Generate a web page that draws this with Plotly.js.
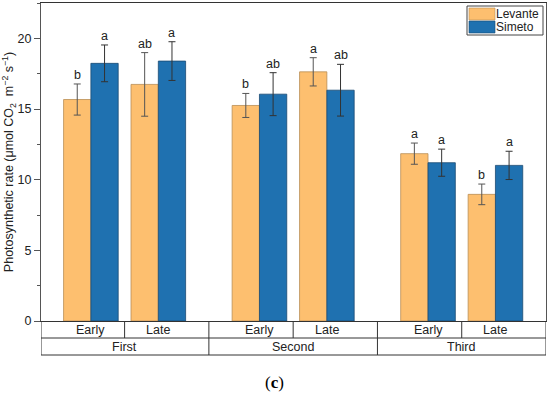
<!DOCTYPE html>
<html>
<head>
<meta charset="utf-8">
<script src="https://cdn.plot.ly/plotly-3.0.1.min.js"></script>
<style>html,body{margin:0;padding:0;background:#fff;}#chart{width:550px;height:393px;}</style>
</head>
<body>
<div id="chart"></div>
<script>
// ---- data ----
const sessions = ["First", "Second", "Third"];
const times = ["Early", "Late"];
const seriesNames = ["Levante", "Simeto"];
const levante = [15.67, 16.74, 15.25, 17.63, 11.84, 8.96];
const levanteErr = [1.1, 2.25, 0.85, 1.0, 0.75, 0.73];
const simeto = [18.23, 18.39, 16.05, 16.33, 11.2, 11.01];
const simetoErr = [1.3, 1.37, 1.52, 1.83, 0.96, 1.0];
const levanteLetters = ["b", "ab", "b", "a", "a", "b"];
const simetoLetters = ["a", "a", "ab", "ab", "a", "a"];
const yTicks = [0, 5, 10, 15, 20];

// ---- layout helpers ----
const colors = ['#FDBF6F', '#1F71B0'];
const lineColors = ['#b98e55', '#1a4a72'];
const groupGap = 2.5;
const barW = 0.405;
const xs = [];
const subLabels = [];
sessions.forEach((s, si) => times.forEach((t, ti) => { xs.push(si * groupGap + ti); subLabels.push(t); }));
const xMin = -0.74, xMax = 6.75;
const plotL = 41, plotR = 546, plotT = 3, plotB = 321;
const px = v => (v - plotL) / (plotR - plotL);
const py = v => (plotB - v) / (plotB - plotT);

const traces = [
  {
    type: 'bar', name: seriesNames[0], x: xs, y: levante, offset: -barW, width: barW,
    marker: {color: colors[0], line: {color: lineColors[0], width: 0.8}},
    error_y: {type: 'data', array: levanteErr, visible: true, color: '#555', thickness: 1, width: 3.5}
  },
  {
    type: 'bar', name: seriesNames[1], x: xs, y: simeto, offset: 0, width: barW,
    marker: {color: colors[1], line: {color: lineColors[1], width: 0.8}},
    error_y: {type: 'data', array: simetoErr, visible: true, color: '#333', thickness: 1, width: 3.5}
  }
];

const annotations = [];
const lblFont = {family: 'Liberation Sans, Arial, sans-serif', size: 12.5, color: '#222'};
xs.forEach((x, i) => {
  annotations.push({x: x - barW / 2, y: levante[i] + levanteErr[i], xref: 'x', yref: 'y', text: levanteLetters[i],
    showarrow: false, yanchor: 'bottom', yshift: 0, font: lblFont});
  annotations.push({x: x + barW / 2, y: simeto[i] + simetoErr[i], xref: 'x', yref: 'y', text: simetoLetters[i],
    showarrow: false, yanchor: 'bottom', yshift: 0, font: lblFont});
});

// table below the axis
const r1 = py(338), r2 = py(355);
const shapes = [];
const lineStyle = {color: '#333', width: 1};
shapes.push({type: 'line', xref: 'x', yref: 'paper', x0: xMin, x1: xMax, y0: r1, y1: r1, line: lineStyle});
shapes.push({type: 'line', xref: 'x', yref: 'paper', x0: xMin, x1: xMax, y0: r2, y1: r2, line: lineStyle});
shapes.push({type: 'line', xref: 'x', yref: 'paper', x0: xMin, x1: xMin, y0: 0, y1: r2, line: lineStyle});
shapes.push({type: 'line', xref: 'x', yref: 'paper', x0: xMax, x1: xMax, y0: 0, y1: r2, line: lineStyle});
sessions.forEach((s, si) => {
  const c = si * groupGap + 0.5;
  shapes.push({type: 'line', xref: 'x', yref: 'paper', x0: c, x1: c, y0: 0, y1: r1, line: lineStyle});
  if (si < sessions.length - 1) {
    const b = si * groupGap + 1 + (groupGap - 1) / 2;
    shapes.push({type: 'line', xref: 'x', yref: 'paper', x0: b, x1: b, y0: 0, y1: r2, line: lineStyle});
  }
  annotations.push({x: c, y: (r1 + r2) / 2, xref: 'x', yref: 'paper', text: s, showarrow: false,
    yanchor: 'middle', font: lblFont});
});
xs.forEach((x, i) => {
  annotations.push({x: x, y: r1 / 2, xref: 'x', yref: 'paper', text: subLabels[i], showarrow: false,
    yanchor: 'middle', font: lblFont});
});

// custom legend (wide swatches like the reference)
shapes.push({type: 'rect', xref: 'paper', yref: 'paper', x0: px(467), x1: px(543), y0: py(6), y1: py(35),
  line: {color: '#444', width: 1}, fillcolor: '#fff'});
seriesNames.forEach((n, i) => {
  const top = 8 + i * 13;
  shapes.push({type: 'rect', xref: 'paper', yref: 'paper', x0: px(469), x1: px(495), y0: py(top), y1: py(top + 12),
    line: {color: lineColors[i], width: 0.6}, fillcolor: colors[i]});
  annotations.push({x: px(496), y: py(top + 6), xref: 'paper', yref: 'paper', text: n, showarrow: false,
    xanchor: 'left', yanchor: 'middle', xshift: -2,
    font: {family: 'Liberation Sans, Arial, sans-serif', size: 12, color: '#222'}});
});

annotations.push({x: px(274), y: py(382), xref: 'paper', yref: 'paper', text: '(<b>c</b>)', showarrow: false,
  yanchor: 'middle', font: {family: 'Liberation Serif, Times New Roman, serif', size: 17, color: '#000'}});

const layout = {
  width: 550, height: 393,
  margin: {l: plotL, r: 550 - plotR, t: plotT, b: 393 - plotB},
  paper_bgcolor: '#fff', plot_bgcolor: '#fff',
  barmode: 'overlay',
  showlegend: false,
  xaxis: {range: [xMin, xMax], showticklabels: false, ticks: '', showgrid: false, zeroline: false,
    showline: true, linecolor: '#333', linewidth: 1, mirror: true, fixedrange: true},
  yaxis: {range: [0, 22.5], tickvals: yTicks, ticktext: yTicks.map(String), ticks: 'outside', ticklen: 6,
    tickcolor: '#555', showgrid: false, zeroline: false, showline: true, linecolor: '#555', linewidth: 1,
    mirror: true,
    minor: {dtick: 2.5, tick0: 0, ticks: 'outside', ticklen: 3, tickcolor: '#555', showgrid: false},
    tickfont: {family: 'Liberation Sans, Arial, sans-serif', size: 12.5, color: '#222'},
    title: {text: 'Photosynthetic rate (μmol CO<sub>2</sub>  m<sup>−2</sup> s<sup>−1</sup>)',
      font: {family: 'Liberation Sans, Arial, sans-serif', size: 12.5, color: '#222'}, standoff: 6}},
  annotations: annotations,
  shapes: shapes
};

Plotly.newPlot('chart', traces, layout, {displayModeBar: false, staticPlot: true});
</script>
</body>
</html>
